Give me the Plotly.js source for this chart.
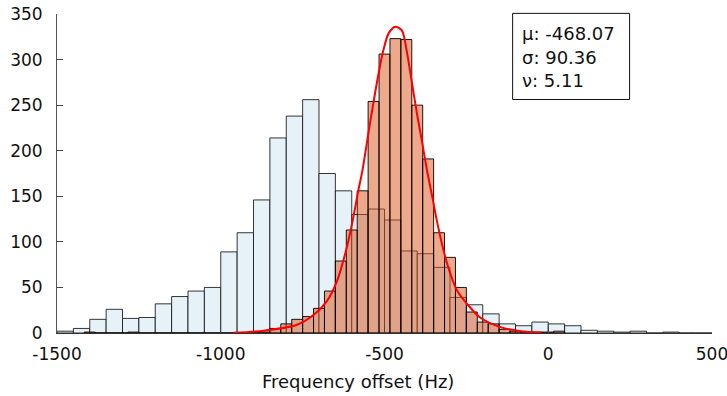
<!DOCTYPE html>
<html>
<head>
<meta charset="utf-8">
<script src="https://cdn.plot.ly/plotly-3.0.1.min.js"></script>
<style>html,body{margin:0;padding:0;background:#fff;}#chart{width:727px;height:396px;}</style>
</head>
<body>
<div id="chart"></div>
<script>
// Blue histogram (raw offsets): bins of 50 Hz starting at -1500 Hz
const blueBinStart = -1500;
const blueBinWidth = 50;
const blueCounts = [2, 5, 15, 26, 16, 17, 32, 40, 46, 50,
                    89, 110, 146, 214, 238, 256, 175, 156, 130, 136,
                    124, 90, 87, 72, 39, 31, 21, 10, 8, 12,
                    10, 8, 3, 2, 1, 2, 0, 1, 0, 0];

// Orange histogram (corrected offsets): bins of 100/3 Hz starting at -1416.67 Hz
const orangeBinStart = -1416.6667;
const orangeBinWidth = 100 / 3;
const orangeCounts = [1, 0, 0, 0, 1, 0, 0, 0, 0, 0,
                      0, 0, 0, 0, 0, 1, 1, 5, 10, 15,
                      18, 27, 46, 79, 113, 156, 254, 306, 323, 322,
                      250, 191, 110, 83, 50, 23, 12, 10, 4, 2,
                      1, 1, 1, 2];

// Fitted t location-scale curve
const fitX = [-961, -869, -767, -716, -676, -645, -620, -599, -579, -568,
              -543, -518, -503, -487, -467, -447, -431, -416, -401, -386,
              -370, -355, -340, -320, -299, -279, -248, -208, -146, -85, -20];
const fitY = [0.3, 2.5, 9, 20, 35, 57, 87, 120, 158, 177,
              233, 285, 311, 329, 336, 332, 307, 274, 241, 211,
              178, 151, 123, 91, 65, 47, 32, 17, 6.5, 2, 0.5];

// Fit parameters shown in the box
const statLabels = ["μ: -468.07", "σ: 90.36", "ν: 5.11"];
const xTitle = "Frequency offset (Hz)";

const blueX = blueCounts.map((_, i) => blueBinStart + blueBinWidth * (i + 0.5));
const orangeX = orangeCounts.map((_, i) => orangeBinStart + orangeBinWidth * (i + 0.5));

const traces = [
  {
    type: 'bar', x: blueX, y: blueCounts, width: blueBinWidth,
    marker: {color: 'rgb(230,241,248)', line: {color: 'rgba(20,20,20,0.85)', width: 1}},
    hoverinfo: 'skip', showlegend: false
  },
  {
    type: 'bar', x: orangeX, y: orangeCounts, width: orangeBinWidth,
    marker: {color: 'rgba(217,83,25,0.5)', line: {color: 'rgba(0,0,0,0.9)', width: 1}},
    hoverinfo: 'skip', showlegend: false
  },
  {
    type: 'scatter', mode: 'lines', x: fitX, y: fitY,
    line: {color: '#ff0000', width: 2, shape: 'spline', smoothing: 0.8},
    hoverinfo: 'skip', showlegend: false
  }
];

const fontFam = '"DejaVu Sans", "Liberation Sans", Arial, sans-serif';
const annYs = [0.938, 0.865, 0.793];
const annotations = statLabels.map((t, i) => ({
  xref: 'paper', yref: 'paper', x: 0.707, y: annYs[i],
  xanchor: 'left', yanchor: 'middle', showarrow: false,
  text: t, font: {family: fontFam, size: 18, color: '#111'}
}));
annotations.push({
  xref: 'paper', yref: 'paper', x: 0.4595, y: -0.152,
  xanchor: 'center', yanchor: 'middle', showarrow: false,
  text: xTitle, font: {family: fontFam, size: 18, color: '#111'}
});

const layout = {
  width: 727, height: 396,
  margin: {l: 57, r: 15, t: 14, b: 63},
  paper_bgcolor: '#fff', plot_bgcolor: '#fff',
  barmode: 'overlay', bargap: 0,
  font: {family: fontFam, color: '#222'},
  xaxis: {
    range: [-1500, 500], tickvals: [-1500, -1000, -500, 0, 500],
    ticktext: ['-1500', '-1000', '-500', '0', '500'],
    ticks: 'inside', ticklen: 6, tickcolor: '#444', tickwidth: 1,
    showline: true, linecolor: '#333', linewidth: 1,
    showgrid: false, zeroline: false,
    tickfont: {family: fontFam, size: 17, color: '#111'},
    ticklabelstandoff: 6, ticklabeloverflow: 'allow'
  },
  yaxis: {
    range: [0, 350], tickvals: [0, 50, 100, 150, 200, 250, 300, 350],
    ticks: 'inside', ticklen: 6, tickcolor: '#444', tickwidth: 1,
    showline: true, linecolor: '#555', linewidth: 1,
    showgrid: false, zeroline: false,
    tickfont: {family: fontFam, size: 17, color: '#111'},
    ticklabelstandoff: 10, ticklabeloverflow: 'allow'
  },
  shapes: [{
    type: 'rect', xref: 'paper', yref: 'paper',
    x0: 0.6956, x1: 0.8742, y0: 0.732, y1: 1.002,
    line: {color: '#111', width: 1}, fillcolor: '#fff', layer: 'above'
  }],
  annotations: annotations
};

Plotly.newPlot('chart', traces, layout, {displayModeBar: false, staticPlot: true});
</script>
</body>
</html>
